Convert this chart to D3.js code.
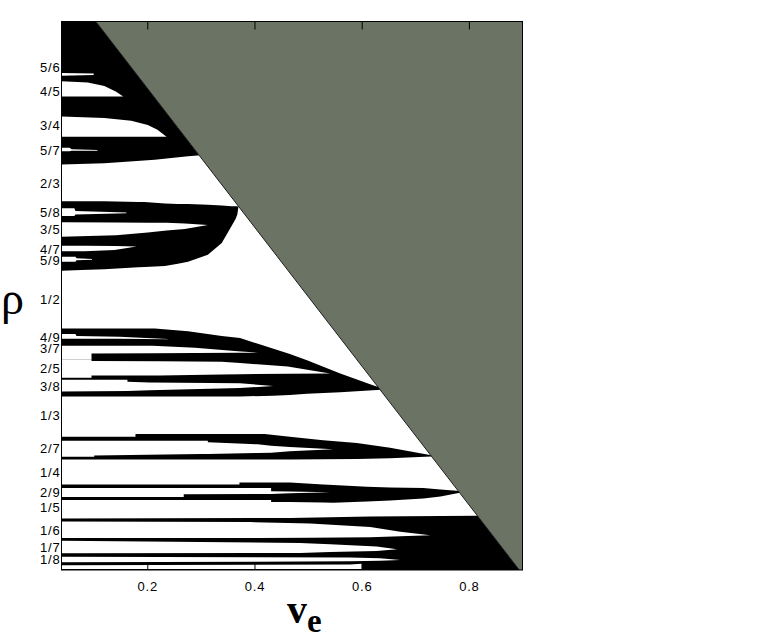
<!DOCTYPE html>
<html>
<head>
<meta charset="utf-8">
<script src="https://cdn.jsdelivr.net/npm/d3@7"></script>
<style>
  body { margin: 0; background: #fff; }
  svg { display: block; }
</style>
</head>
<body>
<div id="chart"></div>
<script>
// Tick values for the winding number axis and their labels
var rhoTicks = [5/6, 4/5, 3/4, 5/7, 2/3, 5/8, 3/5, 4/7, 5/9, 1/2, 4/9, 3/7, 2/5, 3/8, 1/3, 2/7, 1/4, 2/9, 1/5, 1/6, 1/7, 1/8];
var rhoLabels = ["5/6", "4/5", "3/4", "5/7", "2/3", "5/8", "3/5", "4/7", "5/9", "1/2", "4/9", "3/7", "2/5", "3/8", "1/3", "2/7", "1/4", "2/9", "1/5", "1/6", "1/7", "1/8"];
var veTicks = [0.2, 0.4, 0.6, 0.8];

// Black regions, each row is [ve, rho upper edge, rho lower edge]
var blackTop = [[0.040, 0.9, 0.694], [0.120, 0.9, 0.696], [0.214, 0.9, 0.701], [0.276, 0.9, 0.706], [0.294, 0.9, 0.707], [0.330, 0.9, 0.712]];
var black58 = [[0.040, 0.641, 0.541], [0.077, 0.641, 0.542], [0.120, 0.641, 0.543], [0.183, 0.640, 0.546], [0.195, 0.640, 0.5465],
  [0.233, 0.638, 0.548], [0.257, 0.637, 0.551], [0.276, 0.637, 0.554], [0.313, 0.636, 0.564], [0.339, 0.635, 0.581],
  [0.357, 0.634, 0.605], [0.365, 0.634, 0.616], [0.368, 0.634, 0.622], [0.370, 0.633, 0.633]];
var blackAD = [[0.040, 0.458, 0.360], [0.214, 0.458, 0.360], [0.276, 0.454, 0.360], [0.339, 0.447, 0.360], [0.373, 0.444, 0.360],
  [0.434, 0.429, 0.361], [0.466, 0.421, 0.362], [0.498, 0.412, 0.364], [0.560, 0.393, 0.366], [0.621, 0.376, 0.369], [0.645, 0.370, 0.370]];
var blackEF = [[0.040, 0.302, 0.269], [0.178, 0.302, 0.269], [0.178, 0.306, 0.269], [0.419, 0.306, 0.269], [0.466, 0.302, 0.269],
  [0.528, 0.297, 0.2695], [0.591, 0.293, 0.270], [0.653, 0.286, 0.271], [0.740, 0.274, 0.274]];
var blackGH = [[0.040, 0.233, 0.211], [0.372, 0.233, 0.211], [0.372, 0.236, 0.211], [0.431, 0.236, 0.211], [0.431, 0.236, 0.208],
  [0.466, 0.236, 0.2078], [0.528, 0.233, 0.2072], [0.547, 0.2325, 0.207], [0.610, 0.230, 0.2085], [0.653, 0.229, 0.210],
  [0.715, 0.228, 0.213], [0.747, 0.226, 0.216], [0.795, 0.223, 0.223]];
var blackBottom = [[0.040, 0.184, 0.11], [0.466, 0.185, 0.11], [0.616, 0.187, 0.11], [0.815, 0.188, 0.11], [0.920, 0.188, 0.11]];

// White tongues cut into the black regions, [ve, rho upper edge, rho lower edge]
var w56 = [[0.040, 0.826, 0.822], [0.100, 0.825, 0.823]];
var w45 = [[0.040, 0.814, 0.792], [0.089, 0.812, 0.792], [0.120, 0.807, 0.792], [0.142, 0.799, 0.792], [0.155, 0.792, 0.792]];
var w34 = [[0.040, 0.763, 0.734], [0.120, 0.761, 0.734], [0.170, 0.757, 0.734], [0.201, 0.751, 0.734], [0.219, 0.744, 0.734], [0.236, 0.734, 0.734]];
var w57 = [[0.040, 0.718, 0.713], [0.055, 0.718, 0.713], [0.059, 0.716, 0.714], [0.107, 0.715, 0.714]];
var w58 = [[0.040, 0.631, 0.620], [0.064, 0.631, 0.620], [0.066, 0.627, 0.622], [0.161, 0.625, 0.624]];
var w35 = [[0.040, 0.611, 0.590], [0.142, 0.6105, 0.592], [0.201, 0.6103, 0.596], [0.236, 0.610, 0.599], [0.270, 0.609, 0.601], [0.313, 0.607, 0.607]];
var w47 = [[0.040, 0.577, 0.569], [0.083, 0.577, 0.569], [0.139, 0.5765, 0.571], [0.180, 0.576, 0.576]];
var w59 = [[0.040, 0.561, 0.554], [0.066, 0.561, 0.554], [0.068, 0.559, 0.556], [0.097, 0.558, 0.557]];
var w49 = [[0.040, 0.450, 0.443], [0.066, 0.450, 0.443], [0.068, 0.447, 0.443], [0.148, 0.446, 0.443], [0.238, 0.4427, 0.4425]];
var w37 = [[0.040, 0.433, 0.413], [0.096, 0.433, 0.413], [0.096, 0.433, 0.422], [0.210, 0.433, 0.4222], [0.289, 0.430, 0.4225],
  [0.369, 0.425, 0.423], [0.407, 0.423, 0.423]];
var w25 = [[0.040, 0.413, 0.387], [0.096, 0.413, 0.387], [0.096, 0.411, 0.390], [0.223, 0.4105, 0.390], [0.339, 0.410, 0.3915],
  [0.373, 0.408, 0.392], [0.462, 0.403, 0.3925], [0.541, 0.393, 0.393]];
var w38 = [[0.040, 0.384, 0.367], [0.163, 0.384, 0.3677], [0.163, 0.381, 0.3677], [0.204, 0.380, 0.369], [0.373, 0.379, 0.372], [0.435, 0.375, 0.375]];
var w27 = [[0.040, 0.296, 0.273], [0.101, 0.296, 0.273], [0.101, 0.296, 0.275], [0.300, 0.296, 0.277], [0.313, 0.296, 0.277],
  [0.313, 0.294, 0.277], [0.406, 0.291, 0.2785], [0.431, 0.289, 0.279], [0.466, 0.287, 0.281], [0.547, 0.284, 0.284]];
var w29 = [[0.040, 0.228, 0.215], [0.268, 0.228, 0.215], [0.268, 0.228, 0.219], [0.431, 0.228, 0.2195], [0.431, 0.2235, 0.2195],
  [0.466, 0.2232, 0.2206], [0.541, 0.222, 0.222]];
var w16 = [[0.040, 0.180, 0.156], [0.391, 0.179, 0.156], [0.504, 0.177, 0.1565], [0.616, 0.172, 0.157], [0.672, 0.165, 0.1585], [0.728, 0.160, 0.160]];
var w17 = [[0.040, 0.152, 0.134], [0.485, 0.149, 0.1345], [0.541, 0.147, 0.136], [0.628, 0.144, 0.1375], [0.666, 0.140, 0.140]];
var w18 = [[0.040, 0.129, 0.121], [0.578, 0.128, 0.1225], [0.634, 0.127, 0.1235], [0.672, 0.1245, 0.1245]];
var w19 = [[0.040, 0.117, 0.1115], [0.578, 0.118, 0.1115], [0.600, 0.119, 0.1115]];

// Corners of the shaded (inaccessible) region, [ve, rho]
var shadeCorners = [[0.104, 0.9], [0.9, 0.9], [0.9, 0.11], [0.894, 0.11]];

var blackRegions = [blackTop, black58, blackAD, blackEF, blackGH, blackBottom];
var whiteTongues = [w56, w45, w34, w57, w58, w35, w47, w59, w49, w37, w25, w38, w27, w29, w16, w17, w18, w19];

var svg = d3.select("#chart").append("svg")
    .attr("width", 763)
    .attr("height", 634)
    .style("background", "#fff");

var margin = {left: 61.5, top: 21.5};
var width = 461, height = 548.5;

var chart = svg.append("g")
    .attr("transform", "translate(" + margin.left + "," + margin.top + ")");

var x = d3.scaleLinear().domain([0.04, 0.9]).range([0, width]);
var y = d3.scaleLinear().domain([0.11, 0.9]).range([height, 0]);

// Clip everything to the plot box
chart.append("clipPath").attr("id", "plot-clip")
    .append("rect").attr("width", width).attr("height", height);

var plot = chart.append("g").attr("clip-path", "url(#plot-clip)");

var area = d3.area()
    .x(function (d) { return x(d[0]); })
    .y0(function (d) { return y(d[2]); })
    .y1(function (d) { return y(d[1]); });

plot.selectAll("path.black")
    .data(blackRegions)
    .enter()
    .append("path")
    .attr("class", "black")
    .attr("d", area)
    .style("fill", "#000");

plot.selectAll("path.white")
    .data(whiteTongues)
    .enter()
    .append("path")
    .attr("class", "white")
    .attr("d", area)
    .style("fill", "#fff");

var line = d3.line()
    .x(function (d) { return x(d[0]); })
    .y(function (d) { return y(d[1]); });

plot.append("path")
    .attr("d", line(shadeCorners) + "Z")
    .style("fill", "#6b7464");

// Dark edge along the diagonal
plot.append("path")
    .attr("d", line([shadeCorners[0], shadeCorners[3]]))
    .style("fill", "none")
    .style("stroke", "#1e1e1e")
    .style("stroke-width", 1);

// Axes
var tickFont = "Arial, 'Liberation Sans', sans-serif";

var xAxis = d3.axisBottom(x)
    .tickValues(veTicks)
    .tickFormat(d3.format(".1f"))
    .tickSizeInner(-8)
    .tickSizeOuter(0)
    .tickPadding(12);

var gx = chart.append("g")
    .attr("transform", "translate(0," + height + ")")
    .call(xAxis);

var xTop = d3.axisTop(x)
    .tickValues(veTicks)
    .tickFormat("")
    .tickSizeInner(-8)
    .tickSizeOuter(0);

var gxt = chart.append("g").call(xTop);

var yAxis = d3.axisLeft(y)
    .tickValues(rhoTicks)
    .tickFormat(function (d, i) { return rhoLabels[i]; })
    .tickSize(0)
    .tickPadding(1);

var gy = chart.append("g").call(yAxis);

[gx, gxt, gy].forEach(function (g) {
    g.select(".domain").remove();
    g.selectAll("text")
        .style("font-family", tickFont)
        .style("font-size", "13px")
        .style("letter-spacing", "0.8px")
        .style("fill", "#000");
    g.selectAll("line").style("stroke", "#000");
});

// Frame
chart.append("rect")
    .attr("width", width)
    .attr("height", height)
    .style("fill", "none")
    .style("stroke", "#000")
    .style("stroke-width", 1);

// Axis titles
svg.append("text")
    .attr("x", 1)
    .attr("y", 314)
    .style("font-family", "'Liberation Serif', 'Times New Roman', serif")
    .style("font-size", "46px")
    .text("ρ");

var vt = svg.append("text")
    .attr("x", 287)
    .attr("y", 623)
    .style("font-family", "'Liberation Serif', 'Times New Roman', serif")
    .style("font-weight", "bold")
    .style("font-size", "40px");
vt.append("tspan").text("v");
vt.append("tspan").attr("dy", 9).style("font-size", "33px").text("e");
</script>
</body>
</html>
